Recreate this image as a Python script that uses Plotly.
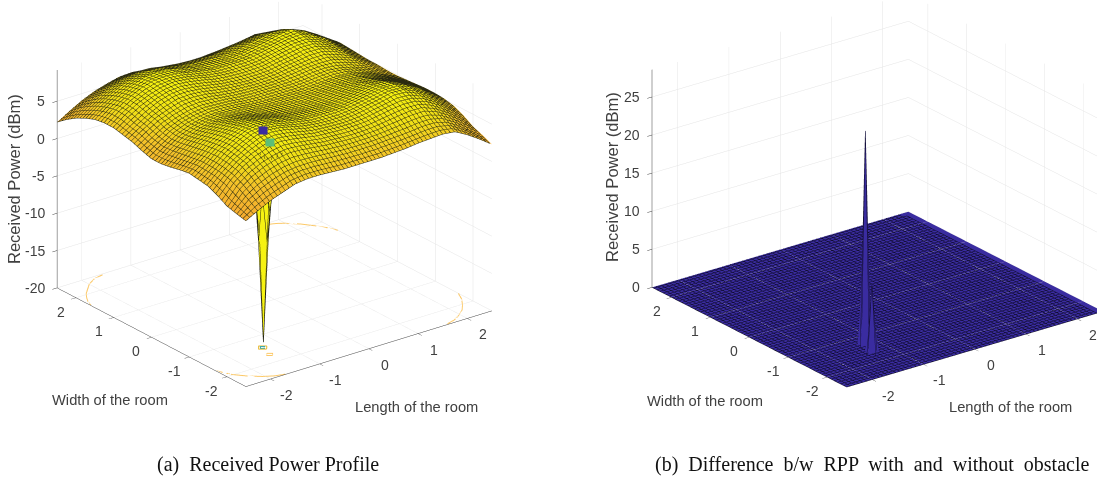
import math
import plotly.graph_objects as go

GRID = [-2.5, -2.25, -2.0, -1.75, -1.5, -1.25, -1.0, -0.75, -0.5, -0.25, 0.0,
        0.25, 0.5, 0.75, 1.0, 1.25, 1.5, 1.75, 2.0, 2.25, 2.5]
TICKS_XY = [-2, -1, 0, 1, 2]
TICKS_ZA = [-20, -15, -10, -5, 0, 5]
TICKS_ZB = [0, 5, 10, 15, 20, 25]
ZLIM_A = [-20.0, 9.17]
ZLIM_B = [0.0, 28.6]

# rows: y from -2.5 to 2.5, columns: x from -2.5 to 2.5
POWER = [
 [2.2,3.1,3.9,4.5,5.1,5.3,5.3,5.2,5.1,5.1,5.1,5.1,5.2,5.3,5.5,5.6,5.7,5.5,4.6,3.5,2.3],
 [2.5,4.0,5.0,5.7,6.2,6.4,6.4,6.3,6.2,6.1,6.1,6.1,6.2,6.3,6.4,6.6,6.6,6.2,5.2,4.0,2.9],
 [2.85,4.8,6.0,6.8,7.3,7.6,7.5,7.3,7.1,7.0,6.9,6.9,7.0,7.2,7.4,7.6,7.6,7.0,6.0,4.8,3.4],
 [3.6,5.4,6.7,7.6,8.2,8.5,8.3,8.0,7.7,7.6,7.5,7.5,7.6,7.9,8.2,8.4,8.3,7.7,6.7,5.5,4.2],
 [4.2,5.7,7.0,8.0,8.8,9.1,8.9,8.5,8.1,7.9,7.8,7.8,8.0,8.3,8.6,9.0,8.9,8.2,7.2,6.0,4.8],
 [4.4,5.8,7.2,8.2,9.0,9.17,9.0,8.6,8.3,8.0,8.0,8.0,8.1,8.4,8.7,9.0,9.0,8.4,7.5,6.3,5.1],
 [4.6,5.8,7.1,8.1,8.8,9.0,8.8,8.5,8.1,7.9,7.8,7.8,7.9,8.2,8.5,8.8,8.8,8.2,7.4,6.3,5.2],
 [4.4,5.6,6.9,7.8,8.4,8.6,8.4,8.1,7.8,7.6,7.5,7.5,7.6,7.9,8.1,8.4,8.3,7.8,7.1,6.2,5.2],
 [4.1,5.4,6.6,7.4,8.0,8.1,8.0,7.7,7.5,7.4,7.3,7.3,7.4,7.6,7.8,7.9,7.9,7.4,6.8,6.0,5.1],
 [3.9,5.2,6.3,7.0,7.5,7.7,7.6,7.5,7.3,7.2,7.2,7.2,7.2,7.3,7.5,7.6,7.5,7.1,6.5,5.8,5.0],
 [3.9,5.1,6.2,6.9,7.3,7.5,7.5,7.4,7.2,7.1,7.1,7.1,7.1,7.2,7.3,7.4,7.3,6.9,6.3,5.6,4.9],
 [4.3,5.4,6.4,7.1,7.5,7.7,7.6,7.5,7.3,7.2,7.2,7.2,7.2,7.3,7.5,7.6,7.4,7.0,6.4,5.7,4.9],
 [4.8,5.9,6.9,7.5,8.0,8.1,8.0,7.7,7.5,7.4,7.3,7.3,7.4,7.6,7.8,7.9,7.9,7.4,6.8,5.9,5.0],
 [5.1,6.2,7.2,8.0,8.5,8.6,8.4,8.1,7.8,7.6,7.5,7.5,7.6,7.9,8.1,8.4,8.4,7.9,7.1,6.0,5.0],
 [5.4,6.6,7.6,8.3,8.8,9.0,8.8,8.5,8.1,7.9,7.8,7.8,7.9,8.2,8.5,8.8,8.8,8.2,7.4,6.2,5.1],
 [5.4,6.7,7.7,8.5,9.0,9.1,9.0,8.6,8.3,8.0,8.0,8.0,8.1,8.4,8.7,9.0,9.1,8.5,7.6,6.4,5.2],
 [5.2,6.4,7.4,8.2,8.8,9.0,8.9,8.5,8.1,7.9,7.8,7.8,8.0,8.3,8.6,9.0,9.17,8.5,7.5,6.4,5.3],
 [4.7,5.9,6.9,7.7,8.2,8.5,8.4,8.1,7.8,7.6,7.5,7.5,7.6,7.9,8.2,8.5,8.5,7.8,7.0,6.0,4.9],
 [4.06,5.2,6.2,6.9,7.4,7.7,7.7,7.4,7.2,7.0,6.9,6.9,7.0,7.2,7.4,7.7,7.6,7.1,6.4,5.4,4.2],
 [3.2,4.3,5.2,5.9,6.4,6.7,6.7,6.5,6.3,6.1,6.0,6.0,6.1,6.3,6.5,6.7,6.7,6.2,5.4,4.4,3.2],
 [2.2,3.2,4.1,4.8,5.3,5.7,5.8,5.6,5.3,5.0,4.8,4.8,5.0,5.1,5.2,5.5,5.8,5.3,4.5,3.4,2.2],
]
FLAT = [[0.0] * 2, [0.0] * 2]
EDGE = [-2.5, 2.5]

# the two obstacle cells: node lines and depth of the drop
PIT1_WIDE_X = [-1.5, -1.3, -1.1]
PIT1_WIDE_Y = [-1.6, -1.4, -1.2]
PIT1_Z = [[7.9, 8.0, 8.0], [8.0, -19.6, 8.0], [8.0, 8.1, 8.0]]
PIT1_TOP = [8.95]
PIT2_WIDE_X = [-1.6, -1.4, -1.2]
PIT2_WIDE_Y = [-1.9, -1.7, -1.5]
PIT2_Z = [[7.2, 7.3, 7.3], [7.4, -1.0, 7.5], [7.5, 7.6, 7.6]]
PIT2_TOP = [8.4]
PIT1_X = [-1.4, -1.3, -1.2]
PIT1_Y = [-1.5, -1.4, -1.3]
PIT2_X = [-1.5, -1.4, -1.3]
PIT2_Y = [-1.8, -1.7, -1.6]
BUMP1_Z = [[0.0, 0.0, 0.0], [0.0, 28.6, 0.0], [0.0, 0.0, 0.0]]
BUMP2_Z = [[0.0, 0.0, 0.0], [0.0, 9.2, 0.0], [0.0, 0.0, 0.0]]

# contour of the surface, as drawn on the floor of the left panel
ARC_LEFT_X = [-1.60, -1.70, -1.81, -2.00, -2.14, -2.27, -2.36, -2.44, -2.49]
ARC_LEFT_Y = [2.47, 2.45, 2.42, 2.30, 2.16, 2.03, 1.90, 1.76, 1.62]
ARC_FRONT_X = [-2.50, -2.45, -2.38, -2.22, -2.04, -1.87, -1.69]
ARC_FRONT_Y = [-1.68, -1.82, -1.98, -2.18, -2.34, -2.44, -2.49]
ARC_RIGHT_X = [2.50, 2.40, 2.27, 2.14, 1.98, 1.80, 1.61]
ARC_RIGHT_Y = [-1.61, -1.83, -2.02, -2.18, -2.31, -2.42, -2.48]
ARC_BACK_X = [1.76, 1.88, 2.00, 2.18, 2.33, 2.43, 2.50]
ARC_BACK_Y = [2.45, 2.40, 2.32, 2.14, 1.93, 1.76, 1.58]
RING1_X = [-1.316, -1.241, -1.344, -1.419, -1.316]
RING1_Y = [-1.507, -1.412, -1.333, -1.428, -1.507]
RING1_IN_X = [-1.322, -1.280, -1.338, -1.380, -1.322]
RING1_IN_Y = [-1.470, -1.412, -1.370, -1.428, -1.470]
RING2_X = [-1.40, -1.345, -1.42, -1.475, -1.40]
RING2_Y = [-1.77, -1.705, -1.65, -1.715, -1.77]

PARULA = [[0.0, '#352a87'], [0.15, '#0f6fdc'], [0.3, '#06a7c6'], [0.45, '#38b99e'],
          [0.6, '#92bf73'], [0.7, '#d9ba56'], [0.76, '#f5a92f'], [0.86, '#f4c22a'],
          [0.92, '#f0de18'], [1.0, '#f6f210']]
YELLOW = '#f6f212'
BLUE = '#3a2ca0'
GREEN = '#5cbf78'
ORANGE = '#fcc968'
TEAL = '#2aa8b8'
MESH = 0.08

FLAT_LIGHT = dict(ambient=1, diffuse=0, specular=0, roughness=1, fresnel=0)


def mesh(color, width=1):
    line = dict(show=True, start=-2.5, end=2.5, size=MESH, color=color, width=width, highlight=False)
    return dict(x=line, y=line, z=dict(show=False, highlight=False))


def pit(xs, ys, zs, color, scene, line):
    l = dict(show=True, start=-2.5, end=2.5, size=0.1, color=line, width=1, highlight=False)
    return go.Surface(x=xs, y=ys, z=zs, surfacecolor=zs, colorscale=[[0, color], [1, color]],
                      showscale=False, lighting=FLAT_LIGHT, scene=scene, hoverinfo='skip',
                      contours=dict(x=l, y=l, z=dict(show=False, highlight=False)))


fig = go.Figure()
fig.add_trace(go.Surface(x=GRID, y=GRID, z=POWER, surfacecolor=POWER, cmin=ZLIM_A[0], cmax=ZLIM_A[1],
                         colorscale=PARULA, showscale=False, lighting=FLAT_LIGHT, scene='scene',
                         contours=mesh('#2a2a10'), hoverinfo='skip'))
fig.add_trace(pit(PIT1_WIDE_X, PIT1_WIDE_Y, PIT1_Z, YELLOW, 'scene', '#202010'))
fig.add_trace(pit(PIT2_WIDE_X, PIT2_WIDE_Y, PIT2_Z, YELLOW, 'scene', '#202010'))
for xs, ys, c in [(ARC_LEFT_X, ARC_LEFT_Y, ORANGE), (ARC_FRONT_X, ARC_FRONT_Y, ORANGE),
                  (ARC_RIGHT_X, ARC_RIGHT_Y, ORANGE), (ARC_BACK_X, ARC_BACK_Y, ORANGE),
                  (RING1_X, RING1_Y, '#e8b830'), (RING1_IN_X, RING1_IN_Y, TEAL), (RING2_X, RING2_Y, ORANGE)]:
    fig.add_trace(go.Scatter3d(x=xs, y=ys, z=[ZLIM_A[0]] * len(xs), mode='lines', scene='scene',
                               line=dict(color=c, width=2), hoverinfo='skip'))

fig.add_trace(go.Surface(x=EDGE, y=EDGE, z=FLAT, surfacecolor=FLAT, colorscale=[[0, BLUE], [1, BLUE]],
                         showscale=False, lighting=FLAT_LIGHT, scene='scene2',
                         contours=mesh('#0a0820'), hoverinfo='skip'))
fig.add_trace(pit(PIT1_X, PIT1_Y, BUMP1_Z, BLUE, 'scene2', '#15103c'))
fig.add_trace(pit(PIT2_X, PIT2_Y, BUMP2_Z, BLUE, 'scene2', '#15103c'))

GREY = '#404040'
GRIDC = '#e4e4e4'


def axis(rng, vals):
    return dict(range=rng, tickvals=vals, showticklabels=False, ticks='outside', ticklen=6, tickcolor=GREY,
                showgrid=True, gridcolor=GRIDC, gridwidth=1, showline=True, linecolor=GREY, linewidth=1,
                zeroline=False, showbackground=False, showspikes=False, title=dict(text=''), autorange=False)


def labels(zlim, zticks, xshift):
    out = []
    base = dict(showarrow=False, font=dict(family='Liberation Sans', size=14, color=GREY))
    for v in TICKS_XY:
        out.append(dict(x=-2.5, y=v, z=zlim[0], text=str(v), xshift=-15, yshift=-14, **base))
        out.append(dict(x=v, y=-2.5, z=zlim[0], text=str(v), xshift=xshift, yshift=-16, **base))
    for v in zticks:
        out.append(dict(x=-2.5, y=2.5, z=v, text=str(v), xanchor='right', xshift=-10, **base))
    return out


def blob(x, y, z, color):
    return dict(x=x, y=y, z=z, text=' ', showarrow=False, bgcolor=color, width=8, height=7, borderpad=0,
                font=dict(size=5))


SCALE = 0.005018  # aspect units per pixel at the scene height below
SCENE_H = 400


def scene(left, right, zlim, zticks, az, el, span_xy, span_z, dx, extra, xshift):
    """az, el in degrees; span_xy, span_z in pixels; dx = px to move box centre right."""
    ca, sa, ce, se = (math.cos(math.radians(az)), math.sin(math.radians(az)),
                      math.cos(math.radians(el)), math.sin(math.radians(el)))
    s = 1 / SCALE
    cz = -(SCENE_H / 2 - 190.5) / (s * ce)
    cx = -dx / s * sa
    cy = dx / s * ca
    d = 4
    return dict(domain=dict(x=[left / 1097, right / 1097], y=[1 - SCENE_H / 479, 1]),
                xaxis=axis(EDGE, TICKS_XY), yaxis=axis(EDGE, TICKS_XY), zaxis=axis(zlim, zticks),
                aspectmode='manual',
                aspectratio=dict(x=span_xy * SCALE, y=span_xy * SCALE, z=span_z * SCALE),
                camera=dict(projection=dict(type='orthographic'),
                            eye=dict(x=cx - d * ce * ca, y=cy - d * ce * sa, z=cz + d * se),
                            up=dict(x=0, y=0, z=1), center=dict(x=cx, y=cy, z=cz)),
                annotations=labels(zlim, zticks, xshift) + extra, bgcolor='white')


text = dict(family='Liberation Sans', size=14.7, color=GREY)
ztitle = dict(family='Liberation Sans', size=16.5, color=GREY)
serif = dict(family='Liberation Serif', size=20, color='#111')
def note(x, y, s, font=text, angle=0):
    return dict(xref='paper', yref='paper', x=x / 1097, y=1 - y / 479, text=s, showarrow=False,
                xanchor='center', yanchor='middle', font=font, textangle=angle)


fig.update_layout(
    width=1097, height=479, margin=dict(l=0, r=0, t=0, b=0), paper_bgcolor='white', showlegend=False,
    scene=scene(0, 549, ZLIM_A, TICKS_ZA, 52.5, 23.66, 309, 236.9, 0,
                [blob(PIT1_X[1], PIT1_Y[1], PIT1_TOP[0], BLUE), blob(PIT2_X[1], PIT2_Y[1], PIT2_TOP[0], GREEN)], 16),
    scene2=scene(640, 1097, ZLIM_B, TICKS_ZB, 52.8, 22.9, 320.7, 235.6, 9, [], 16),
    annotations=[
        note(110, 400, 'Width of the room'), note(416, 407, 'Length of the room'),
        note(14, 179, 'Received Power (dBm)', ztitle, angle=-90),
        note(705, 401, 'Width of the room'), note(1010, 407, 'Length of the room'),
        note(612, 177, 'Received Power (dBm)', ztitle, angle=-90),
        note(268, 464, '(a)  Received Power Profile', serif),
        note(872, 464, '(b)  Difference  b/w  RPP  with  and  without  obstacle', serif),
    ])

fig.write_html('out.html', config=dict(displayModeBar=False),
               post_script="document.body.style.margin='0';document.body.style.overflow='hidden';")
